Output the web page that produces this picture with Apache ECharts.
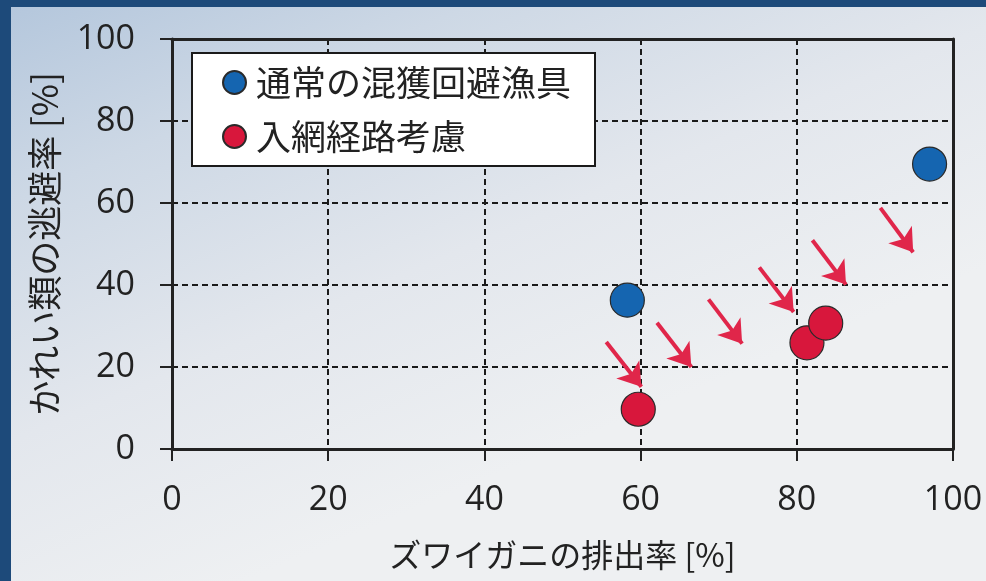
<!DOCTYPE html>
<html>
<head>
<meta charset="utf-8">
<script src="https://cdn.jsdelivr.net/npm/echarts@6/dist/echarts.min.js"></script>
<style>
  html, body { margin: 0; padding: 0; background: #e6e9ee; overflow: hidden; }
  #chart { width: 986px; height: 581px; }
</style>
</head>
<body>
<div id="chart"></div>
<script>
// Series: [snow crab escape rate %, flatfish escape rate %]
const conventionalGear = [[58.3, 36.3], [97.0, 69.5]];
const entryRouteGear = [[59.7, 9.7], [81.3, 25.9], [83.7, 30.7]];
const seriesNames = ['通常の混獲回避漁具', '入網経路考慮'];

// Red arrows: [from, to] in data units
const arrowSegments = [
  [[55.6, 26.1], [60.1, 15.2]],
  [[62.1, 30.8], [66.5, 20.0]],
  [[68.7, 36.5], [73.0, 25.7]],
  [[75.2, 44.3], [79.6, 33.4]],
  [[82.0, 50.9], [86.3, 40.1]],
  [[90.7, 58.8], [94.9, 48.0]]
];

const xTicks = { min: 0, max: 100, interval: 20 };
const yTicks = { min: 0, max: 100, interval: 20 };
const xTitle = 'ズワイガニの排出率 [%]';
const yTitle = 'かれい類の逃避率 [%]';

const ink = '#222222';
const numFont = '"Open Sans", "Noto Sans", sans-serif';
const jpFont = '"Noto Sans CJK JP", "Noto Sans", sans-serif';

const chart = echarts.init(document.getElementById('chart'), null, { renderer: 'canvas' });

const dashed = { show: true, lineStyle: { color: '#1a1a1a', width: 2, type: [6, 4] } };

chart.setOption({
  animation: false,
  backgroundColor: {
    type: 'linear', x: 0, y: 0, x2: 0.25, y2: 1,
    colorStops: [
      { offset: 0, color: '#b3c6dc' },
      { offset: 0.3, color: '#cdd8e5' },
      { offset: 0.65, color: '#e3e7ed' },
      { offset: 1, color: '#eef0f2' }
    ]
  },
  graphic: [
    { type: 'rect', left: 0, top: 0, shape: { width: 986, height: 7 }, style: { fill: '#1d4a7a' }, z: 100 },
    { type: 'rect', left: 0, top: 0, shape: { width: 11, height: 581 }, style: { fill: '#1d4a7a' }, z: 100 }
  ],
  grid: { left: 172, right: 33, top: 39, bottom: 132, containLabel: false },
  legend: {
    orient: 'vertical',
    left: 192,
    top: 53,
    data: seriesNames,
    icon: 'circle',
    itemWidth: 23,
    itemHeight: 23,
    itemGap: 19,
    backgroundColor: '#ffffff',
    borderColor: '#1a1a1a',
    borderWidth: 2,
    borderRadius: 0,
    padding: [12, 24, 12, 30],
    textStyle: { fontSize: 35, color: ink, fontFamily: jpFont, padding: [0, 0, 0, 5] }
  },
  xAxis: [
    {
      type: 'value', position: 'bottom',
      min: xTicks.min, max: xTicks.max, interval: xTicks.interval,
      name: xTitle, nameLocation: 'middle', nameGap: 90,
      nameTextStyle: { fontSize: 32, color: ink, fontFamily: jpFont },
      axisLine: { show: true, onZero: false, lineStyle: { color: ink, width: 3 } },
      axisTick: { show: true, inside: false, length: 12, lineStyle: { color: ink, width: 2 } },
      axisLabel: { fontSize: 34, color: ink, fontFamily: numFont, margin: 34 },
      splitLine: dashed
    },
    {
      type: 'value', position: 'top',
      min: xTicks.min, max: xTicks.max,
      axisLine: { show: true, onZero: false, lineStyle: { color: ink, width: 3 } },
      axisTick: { show: false }, axisLabel: { show: false }, splitLine: { show: false }
    }
  ],
  yAxis: [
    {
      type: 'value', position: 'left',
      min: yTicks.min, max: yTicks.max, interval: yTicks.interval,
      name: yTitle, nameLocation: 'middle', nameGap: 110,
      nameTextStyle: { fontSize: 35, color: ink, fontFamily: jpFont },
      axisLine: { show: true, onZero: false, lineStyle: { color: ink, width: 3 } },
      axisTick: { show: true, inside: false, length: 12, lineStyle: { color: ink, width: 2 } },
      axisLabel: { fontSize: 34, color: ink, fontFamily: numFont, margin: 37 },
      splitLine: dashed
    },
    {
      type: 'value', position: 'right',
      min: yTicks.min, max: yTicks.max,
      axisLine: { show: true, onZero: false, lineStyle: { color: ink, width: 3 } },
      axisTick: { show: false }, axisLabel: { show: false }, splitLine: { show: false }
    }
  ],
  series: [
    {
      type: 'lines',
      coordinateSystem: 'cartesian2d',
      xAxisIndex: 0, yAxisIndex: 0,
      polyline: false,
      symbol: ['none', 'arrow'],
      symbolSize: 22,
      lineStyle: { color: '#e0264a', width: 4, opacity: 1 },
      data: arrowSegments.map(seg => ({ coords: seg })),
      z: 3
    },
    {
      name: seriesNames[0],
      type: 'scatter',
      xAxisIndex: 0, yAxisIndex: 0,
      symbol: 'circle',
      symbolSize: 34,
      itemStyle: { color: '#1565b0', borderColor: '#2a2a2a', borderWidth: 1.2, opacity: 1 },
      data: conventionalGear,
      z: 4
    },
    {
      name: seriesNames[1],
      type: 'scatter',
      xAxisIndex: 0, yAxisIndex: 0,
      symbol: 'circle',
      symbolSize: 34,
      itemStyle: { color: '#d8173c', borderColor: '#2a2a2a', borderWidth: 1.2, opacity: 1 },
      data: entryRouteGear,
      z: 4
    }
  ]
});
</script>
</body>
</html>
